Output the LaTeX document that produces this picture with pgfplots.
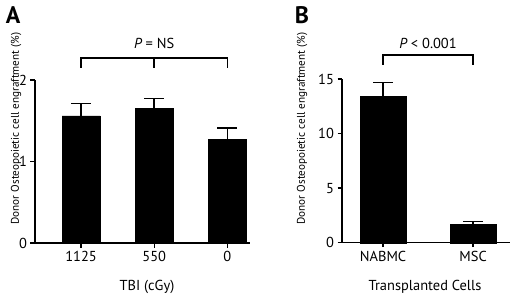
\documentclass[border=0pt]{standalone}
\usepackage{fontspec}
\setmainfont{PT Sans}
\usepackage{pgfplots}
\pgfplotsset{compat=1.18}
\begin{document}
\begin{tikzpicture}
\useasboundingbox (0,0) rectangle (520bp,297bp);
\pgfplotsset{
  myax/.style={
    scale only axis,
    anchor=south west,
    axis x line=bottom, axis y line=left,
    axis line style={line width=1.5bp,-},
    tick style={line width=1.3bp,black},
    tick align=outside, major tick length=4.5bp,
    tick label style={font=\fontsize{14.5}{15}\selectfont},
    /pgf/number format/assume math mode=true,
    xtick=data, clip=false, ymin=0,
  },
  mybar/.style={ybar, bar shift=0pt, fill=black, draw=black,
    error bars/y dir=plus, error bars/y explicit,
    error bars/error bar style={line width=1.5bp,black},
    error bars/error mark options={rotate=90, mark size=10bp, line width=1.5bp, black}},
}
% Panel A
\begin{axis}[myax, at={(35bp,54bp)}, width=215bp, height=163bp,
  xmin=-0.63, xmax=2.31, ymax=2, ytick={0,1,2},
  xticklabels={1125,550,0}]
\addplot[mybar, bar width=0.52] coordinates {
 (0,1.56) +- (0,0.15)
 (1,1.65) +- (0,0.12)
 (2,1.27) +- (0,0.14)
};
\draw[line width=1.5bp] (axis cs:0,2.15) -- (axis cs:0,2.27) -- (axis cs:2,2.27) -- (axis cs:2,2.15);
\draw[line width=1.5bp] (axis cs:1,2.27) -- (axis cs:1,2.15);
\node[font=\fontsize{14.5}{15}\selectfont] at (axis cs:1,2.45) {{\itshape P} = NS};
\end{axis}
% Panel B
\begin{axis}[myax, at={(342bp,54.3bp)}, width=168bp, height=163.7bp,
  xmin=-0.456, xmax=1.41, ymax=15, ytick={0,5,10,15},
  xticklabels={NABMC,MSC}]
\addplot[mybar, bar width=0.51] coordinates {
 (0,13.38) +- (0,1.29)
 (1,1.71) +- (0,0.22)
};
\draw[line width=1.5bp] (axis cs:0,16.3) -- (axis cs:0,17.2) -- (axis cs:1,17.2) -- (axis cs:1,16.3);
\node[font=\fontsize{14.5}{15}\selectfont] at (axis cs:0.5,18.3) {{\itshape P} < 0.001};
\end{axis}
% labels
\node[font=\fontsize{11.2}{12}\selectfont, rotate=90] at (16bp,168.5bp) {Donor Osteopoietic cell engraftment (\%)};
\node[font=\fontsize{11.2}{12}\selectfont, rotate=90] at (302bp,168.5bp) {Donor Osteopoietic cell engraftment (\%)};
\node[font=\fontsize{14.5}{15}\selectfont] at (147bp,10bp) {TBI (cGy)};
\node[font=\fontsize{14.5}{15}\selectfont] at (425bp,10bp) {Transplanted Cells};
\node[font=\fontsize{24}{24}\bfseries] at (13bp,282bp) {A};
\node[font=\fontsize{24}{24}\bfseries] at (302bp,282bp) {B};
\end{tikzpicture}
\end{document}
